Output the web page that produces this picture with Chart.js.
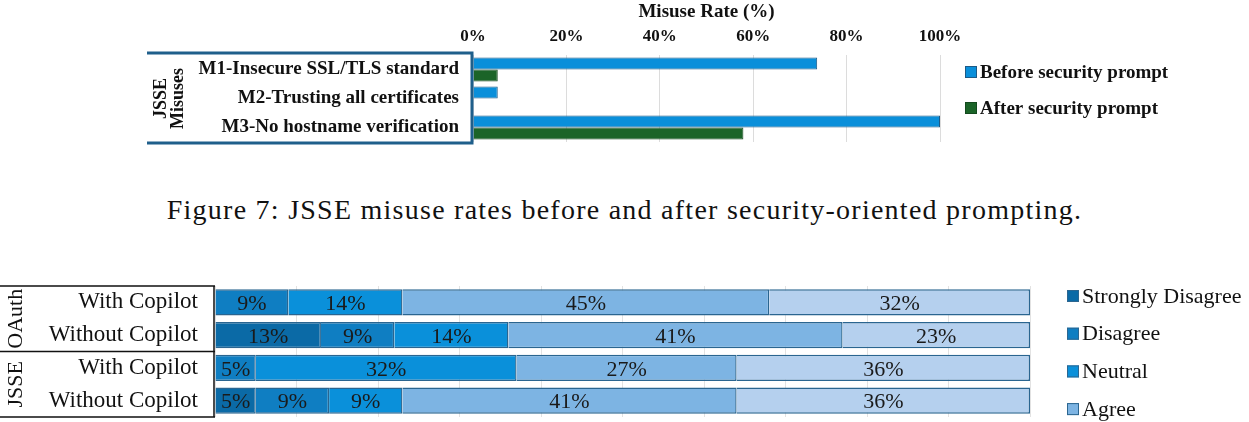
<!DOCTYPE html>
<html>
<head>
<meta charset="utf-8">
<script src="https://cdn.jsdelivr.net/npm/chart.js@4.4.1/dist/chart.umd.min.js"></script>
<style>
  body { margin: 0; background: #fff; width: 1249px; height: 422px; overflow: hidden; position: relative; }
  #top { position: absolute; left: 0; top: 0; }
  #bottom { position: absolute; left: 0; top: 280px; }
  #caption { position: absolute; left: 0; top: 194px; width: 1249px; text-align: center;
             font-family: 'Liberation Serif', serif; font-size: 28px; color: #111; letter-spacing: 1.25px; }
</style>
</head>
<body>
<canvas id="top" width="1249" height="150"></canvas>
<div id="caption">Figure 7: JSSE misuse rates before and after security-oriented prompting.</div>
<canvas id="bottom" width="1249" height="142"></canvas>
<script>
// top chart: misuse rates
const misuseLabels = ['M1-Insecure SSL/TLS standard', 'M2-Trusting all certificates', 'M3-No hostname verification'];
const beforePrompt = [73.7, 5.3, 100];
const afterPrompt = [5.3, 0, 57.9];
const rateTicks = [0, 20, 40, 60, 80, 100];

// bottom chart: survey answers
const groupNames = ['OAuth', 'JSSE'];
const rowLabels = ['With Copilot', 'Without Copilot', 'With Copilot', 'Without Copilot'];
const stronglyDisagree = [0, 13, 0, 5];
const disagree = [9, 9, 5, 9];
const neutral = [14, 14, 32, 9];
const agree = [45, 41, 27, 41];
const stronglyAgree = [32, 23, 36, 36];
const surveyTicks = [0, 10, 20, 30, 40, 50, 60, 70, 80, 90, 100];

const serif = "'Liberation Serif', serif";

// y axis: fixed width, no extra label padding above/below
const fixWidth = w => s => { s.width = w; s.paddingTop = 0; s.paddingBottom = 0; };

const topDecor = {
  id: 'topDecor',
  afterDraw(chart) {
    const ctx = chart.ctx, a = chart.chartArea;
    ctx.save();
    // label box
    ctx.strokeStyle = '#1f5f8b';
    ctx.lineWidth = 3;
    ctx.beginPath();
    ctx.moveTo(147, a.top - 2); ctx.lineTo(a.left - 1, a.top - 2);
    ctx.lineTo(a.left - 1, a.bottom + 1); ctx.lineTo(147, a.bottom + 1);
    ctx.stroke();
    // group label
    ctx.fillStyle = '#111';
    ctx.font = 'bold 18px ' + serif;
    ctx.textAlign = 'center';
    ctx.textBaseline = 'middle';
    ctx.translate(169, (a.top + a.bottom) / 2);
    ctx.rotate(-Math.PI / 2);
    ctx.fillText('JSSE', 0, -8);
    ctx.fillText('Misuses', 0, 9);
    ctx.restore();
    // legend
    ctx.save();
    chart.data.datasets.forEach((ds, i) => {
      const y = 72 + i * 36;
      ctx.fillStyle = ds.backgroundColor;
      ctx.fillRect(965, y - 6, 12, 12);
      ctx.strokeStyle = ds.borderColor;
      ctx.lineWidth = 1;
      ctx.strokeRect(965.5, y - 5.5, 11, 11);
      ctx.fillStyle = '#111';
      ctx.font = 'bold 19px ' + serif;
      ctx.textBaseline = 'middle';
      ctx.fillText(ds.label, 980, y + 1);
    });
    ctx.restore();
  }
};

new Chart(document.getElementById('top'), {
  type: 'bar',
  data: {
    labels: misuseLabels,
    datasets: [
      { label: 'Before security prompt', data: beforePrompt, backgroundColor: '#0a8fda', borderColor: '#1d5a86', borderWidth: 1 },
      { label: 'After security prompt', data: afterPrompt, backgroundColor: '#1b6428', borderColor: '#144a1e', borderWidth: 1 }
    ]
  },
  options: {
    indexAxis: 'y',
    responsive: false,
    animation: false,
    devicePixelRatio: 1,
    layout: { padding: { left: 0, right: 309, top: 0, bottom: 8 } },
    datasets: { bar: { barPercentage: 1, categoryPercentage: 0.83 } },
    plugins: { legend: { display: false }, tooltip: { enabled: false } },
    scales: {
      x: {
        position: 'top', min: 0, max: 100,
        afterBuildTicks: s => { s.ticks = rateTicks.map(v => ({ value: v })); },
        afterFit: s => { s.height = 55; },
        ticks: { callback: v => v + '%', font: { family: serif, size: 17, weight: 'bold' }, color: '#111', padding: 8 },
        grid: { color: '#dcdcdc', drawTicks: false },
        border: { display: false },
        title: { display: true, text: 'Misuse Rate (%)', font: { family: serif, size: 19, weight: 'bold' }, color: '#111', padding: { top: 1, bottom: 0 } }
      },
      y: {
        afterFit: fixWidth(473),
        ticks: { autoSkip: false, font: { family: serif, size: 19, weight: 'bold' }, color: '#111', padding: 14 },
        grid: { display: false, drawTicks: false },
        border: { display: false }
      }
    }
  },
  plugins: [topDecor]
});

const bottomDecor = {
  id: 'bottomDecor',
  afterDatasetsDraw(chart) {
    const ctx = chart.ctx;
    ctx.save();
    ctx.fillStyle = '#1a1a1a';
    ctx.font = '22px ' + serif;
    ctx.textAlign = 'center';
    ctx.textBaseline = 'middle';
    chart.data.datasets.forEach((ds, i) => {
      chart.getDatasetMeta(i).data.forEach((el, j) => {
        const v = ds.data[j];
        if (!v) return;
        const p = el.getCenterPoint();
        ctx.fillText(v + '%', p.x, p.y + 2);
      });
    });
    ctx.restore();
  },
  afterDraw(chart) {
    const ctx = chart.ctx, a = chart.chartArea, ys = chart.scales.y;
    ctx.save();
    ctx.strokeStyle = '#111';
    ctx.lineWidth = 1.5;
    const mid = (ys.getPixelForValue(1) + ys.getPixelForValue(2)) / 2;
    ctx.beginPath();
    [a.top, mid, a.bottom].forEach(y => { ctx.moveTo(0, y); ctx.lineTo(a.left, y); });
    ctx.moveTo(a.left - 1, a.top); ctx.lineTo(a.left - 1, a.bottom);
    ctx.stroke();
    // group labels
    ctx.fillStyle = '#111';
    ctx.font = '22px ' + serif;
    ctx.textAlign = 'center';
    ctx.textBaseline = 'middle';
    groupNames.forEach((g, i) => {
      const cy = (ys.getPixelForValue(i * 2) + ys.getPixelForValue(i * 2 + 1)) / 2;
      ctx.save();
      ctx.translate(16, cy);
      ctx.rotate(-Math.PI / 2);
      ctx.fillText(g, 0, 0);
      ctx.restore();
    });
    // legend
    chart.data.datasets.forEach((ds, i) => {
      const y = 16 + i * 37.7;
      ctx.fillStyle = ds.backgroundColor;
      ctx.fillRect(1067, y - 6, 12, 12);
      ctx.strokeStyle = '#2c6690';
      ctx.lineWidth = 1;
      ctx.strokeRect(1067.5, y - 5.5, 11, 11);
      ctx.fillStyle = '#111';
      ctx.font = '22px ' + serif;
      ctx.textAlign = 'left';
      ctx.fillText(ds.label, 1082, y + 1);
    });
    ctx.restore();
  }
};

new Chart(document.getElementById('bottom'), {
  type: 'bar',
  data: {
    labels: rowLabels,
    datasets: [
      { label: 'Strongly Disagree', data: stronglyDisagree, backgroundColor: '#0b6aa6' },
      { label: 'Disagree', data: disagree, backgroundColor: '#0f7ec2' },
      { label: 'Neutral', data: neutral, backgroundColor: '#0a90da' },
      { label: 'Agree', data: agree, backgroundColor: '#7db4e3' },
      { label: 'Strongly Agree', data: stronglyAgree, backgroundColor: '#b5d0ee' }
    ]
  },
  options: {
    indexAxis: 'y',
    responsive: false,
    animation: false,
    devicePixelRatio: 1,
    layout: { padding: { left: 0, right: 219, top: 6, bottom: 5 } },
    datasets: { bar: { barPercentage: 1, categoryPercentage: 0.8, borderColor: '#2a6590', borderWidth: 1.4 } },
    plugins: { legend: { display: false }, tooltip: { enabled: false } },
    scales: {
      x: {
        stacked: true, min: 0, max: 100,
        afterBuildTicks: s => { s.ticks = surveyTicks.map(v => ({ value: v })); },
        afterFit: s => { s.height = 0; },
        ticks: { display: false },
        grid: { color: '#e2e2e2', drawTicks: false },
        border: { display: false }
      },
      y: {
        stacked: true,
        afterFit: fixWidth(215),
        ticks: { autoSkip: false, font: { family: serif, size: 23 }, color: '#111', padding: 17 },
        grid: { display: false, drawTicks: false },
        border: { display: false }
      }
    }
  },
  plugins: [bottomDecor]
});
</script>
</body>
</html>
